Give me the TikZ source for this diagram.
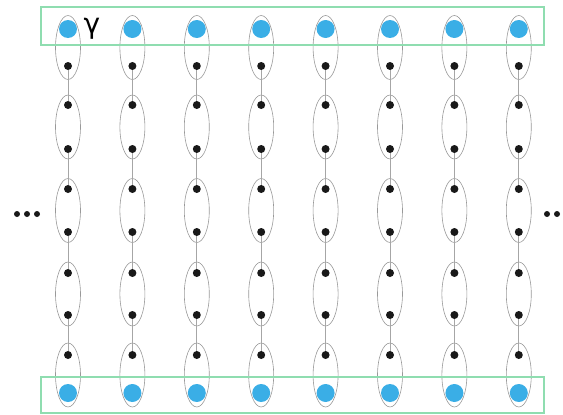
\documentclass[tikz,border=0pt]{standalone}
\usepackage{fontspec}
\usepackage{tikz}
\usetikzlibrary{shapes.geometric}
\newfontfamily\greekfont{DejaVu Sans}
\definecolor{dotblue}{HTML}{3AAEE6}
\definecolor{boxgreen}{HTML}{8FDDB0}
\tikzset{
  bluedot/.style={circle, fill=dotblue, inner sep=0pt, minimum size=18pt},
  blackdot/.style={circle, fill=black!90, inner sep=0pt, minimum size=8pt},
  pairloop/.style={ellipse, draw=gray!80, line width=0.6pt, minimum width=25pt, minimum height=64pt, inner sep=0pt},
  bond/.style={draw=gray!70, line width=0.7pt},
  rowbox/.style={draw=boxgreen, line width=1.4pt}
}
\begin{document}
\begin{tikzpicture}[x=1pt, y=-1pt]
\useasboundingbox (0,0) rectangle (563,415);
% rows of the lattice, top to bottom
\foreach \i in {0,...,7} {
  \pgfmathsetmacro{\xc}{68+64.4*\i}
  \node[bluedot] (t\i) at (\xc,29) {};
  \foreach \r/\yc in {1/66,2/105,3/149,4/189,5/232,6/273,7/315,8/355}
    \node[blackdot] (d\i-\r) at (\xc,\yc) {};
  \node[bluedot] (b\i) at (\xc,393) {};
  % loops around pairs
  \node[pairloop] (e\i-1) at (\xc,47.5) {};
  \node[pairloop] (e\i-2) at (\xc,127) {};
  \node[pairloop] (e\i-3) at (\xc,210.5) {};
  \node[pairloop] (e\i-4) at (\xc,294) {};
  \node[pairloop] (e\i-5) at (\xc,375) {};
  % bonds between loops
  \draw[bond] (d\i-1) -- (d\i-2);
  \draw[bond] (d\i-3) -- (d\i-4);
  \draw[bond] (d\i-5) -- (d\i-6);
  \draw[bond] (d\i-7) -- (d\i-8);
}
% boundary rows
\draw[rowbox] (41,7) rectangle (544,45);
\draw[rowbox] (41,377) rectangle (544,413);
\node[font=\greekfont\fontsize{28}{28}\selectfont] (gam) at (92,29) {γ};
% dots at the sides
\foreach \xc/\n in {17/l1,27/l2,37/l3,547/r1,557/r2}
  \node[circle, fill=black!90, inner sep=0pt, minimum size=6pt] (\n) at (\xc,214) {};
\end{tikzpicture}
\end{document}
